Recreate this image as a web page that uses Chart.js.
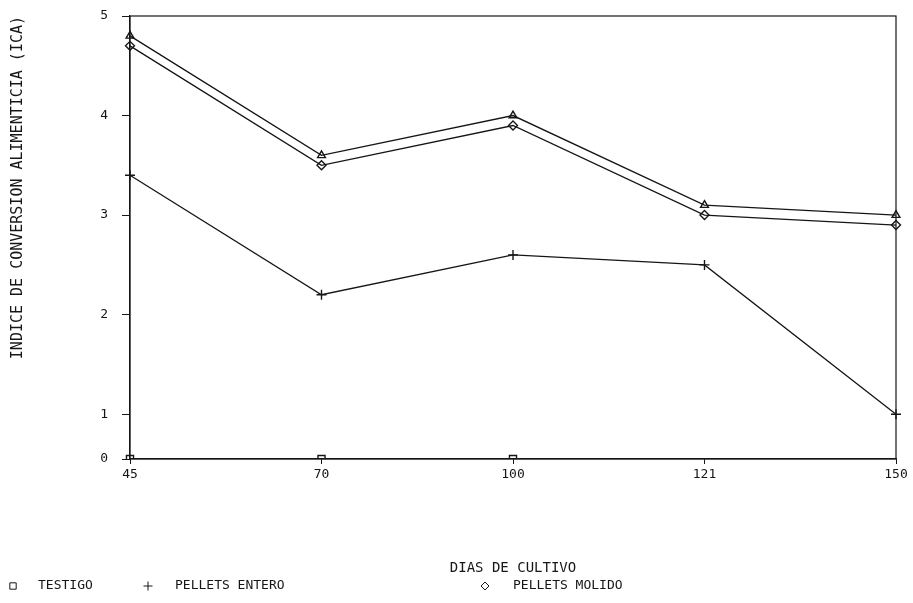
<!DOCTYPE html>
<html>
<head>
<meta charset="utf-8">
<script src="https://cdn.jsdelivr.net/npm/chart.js@4.4.0/dist/chart.umd.min.js"></script>
<style>
  html, body { margin: 0; padding: 0; background: #fff; }
  #wrap { width: 913px; height: 603px; }
</style>
</head>
<body>
<div id="wrap"><canvas id="chart" width="913" height="603"></canvas></div>
<script>
// --- DATA ---
const dias = ['45', '70', '100', '121', '150'];
const testigo = [0, 0, 0, null, null];
const pelletsEntero = [3.4, 2.2, 2.6, 2.5, 1.0];
const pelletsMolido = [4.7, 3.5, 3.9, 3.0, 2.9];
const serieTriangulo = [4.8, 3.6, 4.0, 3.1, 3.0];
const yTicks = [0, 1, 2, 3, 4, 5];

const INK = '#161616';
const FONT = 'DejaVu Sans Mono';

// The original axis squeezes the 0-1 band; keep that with a piecewise linear scale
const LOW_SPAN = 0.45;
class BrokenLinearScale extends Chart.LinearScale {
    toT(v) { return v < 1 ? v * LOW_SPAN : LOW_SPAN + (v - 1); }
    fromT(t) { return t < LOW_SPAN ? t / LOW_SPAN : t - LOW_SPAN + 1; }
    getPixelForValue(value) {
        if (value === null || isNaN(value)) return NaN;
        const t0 = this.toT(this.min), t1 = this.toT(this.max);
        return this.getPixelForDecimal((this.toT(value) - t0) / (t1 - t0));
    }
    getValueForPixel(pixel) {
        const t0 = this.toT(this.min), t1 = this.toT(this.max);
        return this.fromT(t0 + this.getDecimalForPixel(pixel) * (t1 - t0));
    }
}
BrokenLinearScale.id = 'brokenLinear';
Chart.register(BrokenLinearScale);

// Box around the plot area
const frame = {
    id: 'frame',
    afterDatasetsDraw(chart) {
        const { ctx, chartArea: a } = chart;
        ctx.save();
        ctx.strokeStyle = INK;
        ctx.lineWidth = 1.2;
        ctx.strokeRect(a.left, a.top, a.right - a.left, a.bottom - a.top);
        ctx.restore();
    }
};

// Legend row at the bottom, like the original printout
const LEGEND_X = [[13, 38], [148, 175], [485, 513]];
const legendRow = {
    id: 'legendRow',
    afterDraw(chart) {
        const { ctx } = chart;
        const y = 586;
        ctx.save();
        ctx.font = `13px "${FONT}"`;
        ctx.strokeStyle = INK;
        ctx.textBaseline = 'middle';
        chart.data.datasets.slice(0, 3).forEach((ds, i) => {
            const [mx, tx] = LEGEND_X[i];
            ctx.fillStyle = '#fff';
            Chart.helpers.drawPoint(ctx, {
                pointStyle: ds.pointStyle,
                radius: ds.pointRadius - 0.5,
                borderWidth: 1.2
            }, mx, y);
            ctx.fillStyle = INK;
            ctx.fillText(ds.label, tx, y);
        });
        ctx.restore();
    }
};

function serie(label, data, style, radius) {
    return {
        label: label,
        data: data,
        borderColor: INK,
        borderWidth: 1.3,
        pointStyle: style,
        pointRadius: radius,
        pointBorderColor: INK,
        pointBackgroundColor: 'rgba(255,255,255,0)',
        pointBorderWidth: 1.4,
        tension: 0,
        spanGaps: false
    };
}

new Chart(document.getElementById('chart'), {
    type: 'line',
    data: {
        labels: dias,
        datasets: [
            serie('TESTIGO', testigo, 'rect', 5),
            serie('PELLETS ENTERO', pelletsEntero, 'cross', 5),
            serie('PELLETS MOLIDO', pelletsMolido, 'rectRot', 4.5),
            serie('SERIE 4', serieTriangulo, 'triangle', 4.5)
        ]
    },
    options: {
        responsive: false,
        animation: false,
        layout: { padding: { top: 16, right: 17, bottom: 26, left: 0 } },
        plugins: {
            legend: { display: false },
            tooltip: { enabled: false }
        },
        scales: {
            x: {
                type: 'category',
                offset: false,
                grid: { drawOnChartArea: false, drawTicks: true, tickLength: 5, color: INK, offset: false },
                border: { display: true, color: INK, width: 1.2 },
                ticks: { color: INK, font: { family: FONT, size: 13 }, padding: 3, maxRotation: 0 },
                title: {
                    display: true,
                    text: 'DIAS DE CULTIVO',
                    color: INK,
                    font: { family: FONT, size: 14 },
                    padding: { top: 0, bottom: 0 }
                },
                afterFit: s => { s.height = 118; s.paddingTop = 0; }
            },
            y: {
                type: 'brokenLinear',
                min: 0,
                max: 5,
                afterBuildTicks: s => { s.ticks = yTicks.map(v => ({ value: v })); },
                grid: { drawOnChartArea: false, drawTicks: true, tickLength: 8, color: INK },
                border: { display: true, color: INK, width: 1.2 },
                ticks: { color: INK, font: { family: FONT, size: 13 }, padding: 14 },
                title: {
                    display: true,
                    text: 'INDICE DE CONVERSION ALIMENTICIA (ICA)',
                    align: 'end',
                    color: INK,
                    font: { family: FONT, size: 15 },
                    padding: { top: 9, bottom: 0 }
                },
                afterFit: s => { s.width = 130; s.paddingTop = 0; s.paddingBottom = 0; }
            }
        }
    },
    plugins: [frame, legendRow]
});
</script>
</body>
</html>
